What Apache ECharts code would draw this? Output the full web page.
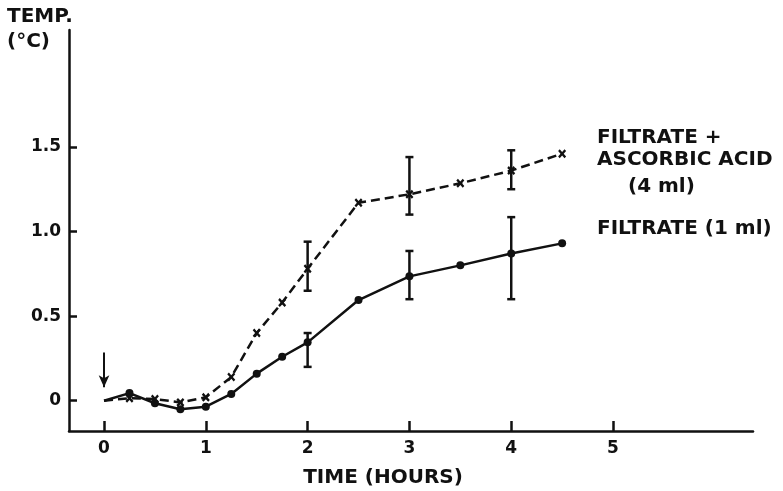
<!DOCTYPE html>
<html><head><meta charset="utf-8">
<script src="https://cdn.jsdelivr.net/npm/echarts@6/dist/echarts.min.js"></script>
<style>html,body{margin:0;padding:0;background:#fff}#c{width:783px;height:491px}</style>
</head><body><div id="c"></div>
<script>
// ---- data ----
const times = [0, 0.25, 0.5, 0.75, 1, 1.25, 1.5, 1.75, 2, 2.5, 3, 3.5, 4, 4.5];
const filtrate = [0, 0.045, -0.015, -0.05, -0.035, 0.04, 0.16, 0.26, 0.345, 0.595, 0.735, 0.80, 0.87, 0.93];
const ascorbic = [0, 0.015, 0.01, -0.01, 0.02, 0.14, 0.40, 0.58, 0.78, 1.17, 1.22, 1.285, 1.36, 1.46];
const filtrateErrTimes = [2, 3, 4];
const filtrateErrLow = [0.20, 0.60, 0.60];
const filtrateErrHigh = [0.40, 0.885, 1.085];
const ascorbicErrTimes = [2, 3, 4];
const ascorbicErrLow = [0.65, 1.10, 1.25];
const ascorbicErrHigh = [0.94, 1.44, 1.48];
const xTicks = [0, 1, 2, 3, 4, 5];
const yTicks = [0, 0.5, 1, 1.5];
const yTickLabels = ['0', '0.5', '1.0', '1.5'];
const arrowTime = 0, arrowFrom = 0.285, arrowTo = 0.08;

// ---- chart ----
const INK = '#111';
const FONT = 'DejaVu Sans';
const chart = echarts.init(document.getElementById('c'), null, {renderer: 'canvas'});

function pairs(ts, vs) { return ts.map((t, i) => [t, vs[i]]); }

function errSeries(ts, lo, hi) {
  return {
    type: 'custom', silent: true, z: 3,
    data: ts.map((t, i) => [t, lo[i], hi[i]]),
    encode: {x: 0, y: [1, 2]},
    renderItem(params, api) {
      const t = api.value(0);
      const l = api.coord([t, api.value(1)]);
      const h = api.coord([t, api.value(2)]);
      const w = 4;
      const st = {stroke: INK, lineWidth: 2.5};
      return {type: 'group', children: [
        {type: 'line', shape: {x1: l[0], y1: l[1], x2: h[0], y2: h[1]}, style: st},
        {type: 'line', shape: {x1: l[0] - w, y1: l[1], x2: l[0] + w, y2: l[1]}, style: st},
        {type: 'line', shape: {x1: h[0] - w, y1: h[1], x2: h[0] + w, y2: h[1]}, style: st}
      ]};
    }
  };
}

const xMark = 'path://M0,2L2,0L5,3L8,0L10,2L7,5L10,8L8,10L5,7L2,10L0,8L3,5Z';

const txt = (text, x, y, size, align) => ({
  type: 'text', x: x, y: y, silent: true,
  style: {text: text, fill: INK, font: 'bold ' + size + 'px "' + FONT + '"',
          align: align || 'left', verticalAlign: 'middle',
          textAlign: align || 'left', textVerticalAlign: 'middle'}
});

chart.setOption({
  animation: false,
  backgroundColor: '#fff',
  grid: {left: 69, top: 30, right: 30, bottom: 60, containLabel: false},
  xAxis: {
    type: 'value', min: -0.344, max: 6.375,
    axisLine: {show: true, onZero: false, lineStyle: {color: INK, width: 2.5}},
    axisTick: {show: true, inside: true, length: 10, lineStyle: {color: INK, width: 2.5}, customValues: xTicks},
    axisLabel: {customValues: xTicks, margin: 9, color: INK, fontFamily: FONT, fontWeight: 'bold', fontSize: 17,
                formatter: v => String(v)},
    splitLine: {show: false}
  },
  yAxis: {
    type: 'value', min: -0.179, max: 2.191,
    axisLine: {show: true, onZero: false, lineStyle: {color: INK, width: 2.5}},
    axisTick: {show: true, inside: true, length: 8, lineStyle: {color: INK, width: 2.5}, customValues: yTicks},
    axisLabel: {customValues: yTicks, margin: 8, color: INK, fontFamily: FONT, fontWeight: 'bold', fontSize: 17,
                padding: [5, 0, 0, 0],
                formatter: v => {
                  let k = 0;
                  yTicks.forEach((t, i) => { if (Math.abs(t - v) < 1e-6) k = i; });
                  return yTickLabels[k];
                }},
    splitLine: {show: false}
  },
  series: [
    {
      name: 'FILTRATE + ASCORBIC ACID (4 ml)', type: 'line', z: 4,
      data: pairs(times, ascorbic),
      symbol: xMark, symbolSize: v => (v[0] === 0 ? 0 : [8, 9]),
      itemStyle: {color: INK, borderWidth: 0},
      lineStyle: {color: INK, width: 2.5, type: [9, 5]}
    },
    {
      name: 'FILTRATE (1 ml)', type: 'line', z: 5,
      data: pairs(times, filtrate),
      symbol: 'circle', symbolSize: v => (v[0] === 0 ? 0 : 8),
      itemStyle: {color: INK, borderWidth: 0},
      lineStyle: {color: INK, width: 2.5},
      markLine: {
        silent: true, animation: false,
        symbol: ['none', 'arrow'], symbolSize: [8, 12],
        label: {show: false},
        lineStyle: {color: INK, width: 2, type: 'solid'},
        data: [[{coord: [arrowTime, arrowFrom]}, {coord: [arrowTime, arrowTo]}]]
      }
    },
    errSeries(filtrateErrTimes, filtrateErrLow, filtrateErrHigh),
    errSeries(ascorbicErrTimes, ascorbicErrLow, ascorbicErrHigh)
  ],
  graphic: [
    txt('TEMP.', 7, 17, 20),
    txt('(°C)', 7, 42, 20),
    txt('FILTRATE +', 597, 138, 20),
    txt('ASCORBIC ACID', 597, 160, 20),
    txt('(4 ml)', 628, 187, 20),
    txt('FILTRATE (1 ml)', 597, 229, 20),
    txt('TIME (HOURS)', 383, 478, 20, 'center')
  ]
});
</script>
</body></html>
